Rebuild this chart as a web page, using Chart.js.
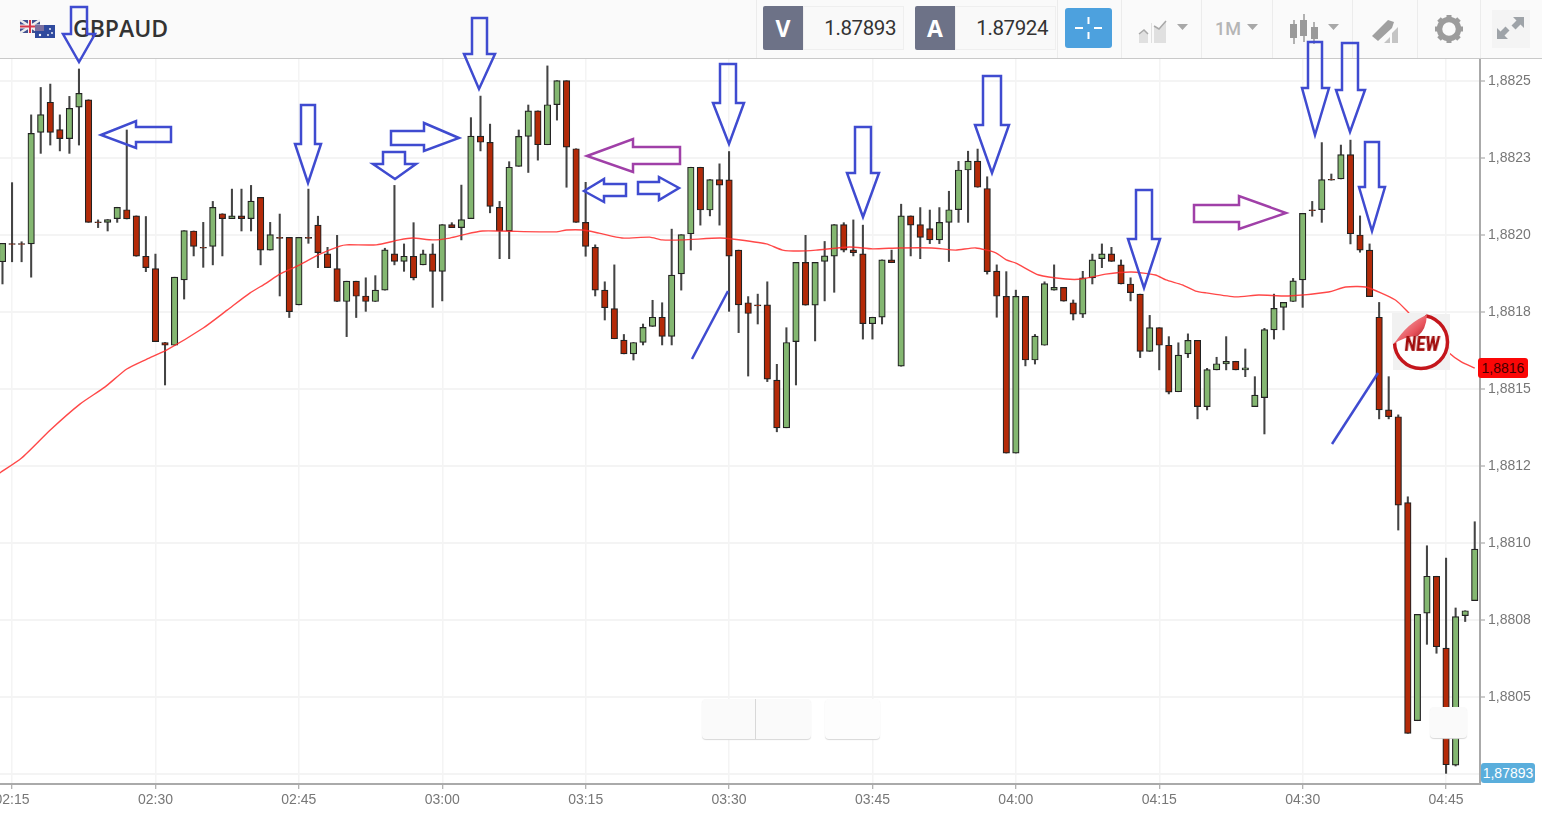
<!DOCTYPE html>
<html>
<head>
<meta charset="utf-8">
<title>GBPAUD</title>
<script src="https://cdn.jsdelivr.net/npm/chart.js@4"></script>
<style>
    html, body { margin: 0; padding: 0; background: #fff; overflow: hidden; }
    #wrap { position: relative; width: 1542px; height: 821px; overflow: hidden; font-family: "Open Sans", sans-serif; }
    #priceChart { position: absolute; left: 0; top: 0; }
    #toolbar { position: absolute; left: 0; top: 0; width: 1542px; height: 58px; background: #fafafa; border-bottom: 1px solid #c9c9c9; }
    #symbol { position: absolute; left: 73px; top: 12px; font-size: 23px; font-weight: 600; color: #333; }
    .divider { position: absolute; top: 0; width: 1px; height: 58px; background: #ececec; }
    .side { position: absolute; top: 6px; width: 40px; height: 44px; background: #6d7287; color: #fff; font-size: 23px; font-weight: 700; text-align: center; line-height: 44px; border-radius: 2px 0 0 2px; }
    .quote { position: absolute; top: 6px; height: 42px; border: 1px solid #efefef; background: #f9f9f9; color: #333; font-family: Roboto, sans-serif; font-size: 20.5px; line-height: 43px; letter-spacing: -0.4px; text-align: right; padding-right: 7px; box-sizing: content-box; }
    #cross { position: absolute; left: 1065px; top: 8px; width: 47px; height: 40px; background: #4da1de; border-radius: 3px; }
    #period { position: absolute; left: 1215px; top: 18px; font-family: Roboto, sans-serif; font-size: 18px; font-weight: 500; color: #b5b5b5; }
    #expand { position: absolute; left: 1492px; top: 10px; width: 38px; height: 38px; background: #f4f4f4; }
    .panel { position: absolute; background: #fafafa; border-radius: 4px; box-shadow: 0 1px 1px #d8d8d8; }
    .tag { position: absolute; font-family: "Liberation Sans", Arial, sans-serif; font-size: 14px; text-align: center; border-radius: 3px; }
    #overlay { position: absolute; left: 0; top: 0; }
</style>
</head>
<body>
<div id="wrap">
    <canvas id="priceChart" width="1542" height="821"></canvas>

    <div class="panel" style="left:702px;top:699px;width:109px;height:40px"></div>
    <div style="position:absolute;left:755px;top:699px;width:1px;height:40px;background:#d8d8d8"></div>
    <div class="panel" style="left:825px;top:699px;width:55px;height:40px;background:#fdfdfd"></div>
    <div class="panel" style="left:1430px;top:707px;width:37px;height:31px"></div>

    <div class="tag" style="left:1478px;top:358px;width:50px;height:20px;line-height:21px;background:#fb0606;color:#400">1,8816</div>
    <div class="tag" style="left:1481px;top:763px;width:54px;height:20px;line-height:21px;background:#5aaedc;color:#fff">1,87893</div>

    <div id="toolbar">
        <div id="symbol">GBPAUD</div>
        <div class="divider" style="left:756px"></div>
        <div class="divider" style="left:1057px"></div>
        <div class="divider" style="left:1121px"></div>
        <div class="divider" style="left:1201px"></div>
        <div class="divider" style="left:1272px"></div>
        <div class="divider" style="left:1352px"></div>
        <div class="divider" style="left:1417px"></div>
        <div class="divider" style="left:1480px"></div>
        <div class="side" style="left:763px">V</div>
        <div class="quote" style="left:803px;width:92px">1.87893</div>
        <div class="side" style="left:915px">A</div>
        <div class="quote" style="left:955px;width:92px">1.87924</div>
        <div id="cross"></div>
        <div id="period">1M</div>
        <div id="expand"></div>
    </div>

    <svg id="overlay" width="1542" height="821" viewBox="0 0 1542 821">
        <!-- flags -->
        <rect x="20" y="20" width="20" height="13" fill="#41508f"/>
        <path d="M20 20L40 33M40 20L20 33" stroke="#eee" stroke-width="2.5"/>
        <path d="M30 20V33M20 26.5H40" stroke="#f2f2f2" stroke-width="4"/>
        <path d="M30 20V33M20 26.5H40" stroke="#d6384a" stroke-width="2"/>
        <rect x="35" y="25" width="20" height="13" fill="#2f4a9e"/>
        <rect x="35" y="25" width="9" height="6" fill="#7b6f9e"/>
        <circle cx="50" cy="29" r="0.9" fill="#fff"/><circle cx="52" cy="33" r="0.9" fill="#fff"/><circle cx="48" cy="35" r="0.9" fill="#fff"/><circle cx="40" cy="35" r="1.2" fill="#fff"/>

        <!-- toolbar icons -->
        <path d="M1088.500 17v7M1088.500 32v7M1075 28h8M1094 28h8" stroke="#fff" stroke-width="2" fill="none"/>
        <path d="M1139 43V34l5-4 4 4v9zM1151 43V23h1v20zM1154 43V26l5 3 7-8v22z" fill="#e0e0e0"/>
        <path d="M1139 34l5-4 4 4M1154 26l5 3 7-8" stroke="#a8a8a8" stroke-width="1.5" fill="none"/>
        <path d="M1177 24h11l-5.500 6z M1247 24h11l-5.500 6z M1328 24h11l-5.500 6z" fill="#a8a8a8"/>
        <path d="M1294 20v24M1304 14v28M1314 22v22" stroke="#9a9a9a" stroke-width="1.500"/>
        <rect x="1290" y="24" width="7" height="14" fill="#9a9a9a"/><rect x="1300" y="20" width="7" height="16" fill="#9a9a9a"/><rect x="1311" y="27" width="7" height="12" fill="#9a9a9a"/>
        <path d="M1372 36l16-16 6 2-2 6-14 13z" fill="#a0a0a0"/>
        <path d="M1384 43l6-6v6zM1392 43V33l6-6v16z" fill="#c4c4c4"/>
        <g transform="translate(1449 29)">
            <circle r="9.500" fill="none" stroke="#9c9c9c" stroke-width="5.500"/>
            <path d="M0-14V-9M0 14V9M-14 0H-9M14 0H9M-10-10L-6.500-6.500M10 10L6.500 6.500M-10 10L-6.500 6.500M10-10L6.500-6.500" stroke="#9c9c9c" stroke-width="5"/>
        </g>
        <path d="M1513 17h11v11l-3.500-3.500-5 5-4-4 5-5zM1508 39h-11V28l3.500 3.500 5-5 4 4-5 5z" fill="#9ea3a8"/>

        <!-- hand drawn arrows -->
        <g fill="none" stroke="#3f4bd0" stroke-width="2.500" stroke-linejoin="miter">
            <polygon points="71,7 87,7 87,34 95,34 79,62 63,34 71,34"/>
            <polygon points="101,135 136,121 136,127 171,127 171,142 136,142 136,148"/>
            <polygon points="301,105 315,105 315,144 321,144 308,183 295,144 301,144"/>
            <polygon points="383,152 405,152 405,164 416,164 395,179 373,164 383,164"/>
            <polygon points="391,131 424,131 424,123 459,138 424,151 424,145 391,145"/>
            <polygon points="472,18 487,18 487,54 495,54 479,89 464,54 472,54"/>
            <polygon points="584,191 604,179 604,184 626,184 626,196 604,196 604,202"/>
            <polygon points="638,182 659,182 659,177 679,188 659,200 659,194 638,194"/>
            <polygon points="720,64 736,64 736,103 744,103 729,144 713,103 720,103"/>
            <polygon points="855,127 871,127 871,173 879,173 863,217 847,173 855,173"/>
            <polygon points="983,76 1001,76 1001,125 1009,125 992,173 975,125 983,125"/>
            <polygon points="1136,190 1152,190 1152,239 1160,239 1144,288 1128,239 1136,239"/>
            <polygon points="1308,42 1322,42 1322,88 1329,88 1315,135 1302,88 1308,88"/>
            <polygon points="1342,43 1358,43 1358,90 1365,90 1350,132 1336,90 1342,90"/>
            <polygon points="1365,142 1379,142 1379,187 1385,187 1372,231 1359,187 1365,187"/>
            <line x1="692" y1="359" x2="728" y2="291"/>
            <line x1="1332" y1="444" x2="1378" y2="373"/>
        </g>
        <g fill="none" stroke="#a040a8" stroke-width="2.500">
            <polygon points="587,156 633,139 633,147 680,147 680,164 633,164 633,172"/>
            <polygon points="1194,205 1239,205 1239,196 1286,213 1239,229 1239,222 1194,222"/>
        </g>

        <!-- NEW sticker -->
        <defs>
            <linearGradient id="curl" x1="0" y1="0" x2="1" y2="1">
                <stop offset="0" stop-color="#f7c3c6"/>
                <stop offset="0.6" stop-color="#e8535c"/>
                <stop offset="1" stop-color="#8c0f14"/>
            </linearGradient>
        </defs>
        <rect x="1393" y="314" width="57" height="56" fill="#f1f1f1"/>
        <circle cx="1421" cy="342" r="26.500" fill="#fff" stroke="#c4161c" stroke-width="3.500"/>
        <path d="M1392 345L1392 313L1428 313z" fill="#f1f1f1"/>
        <path d="M1394 344Q1408 322 1427 315Q1426 330 1418 336Q1405 336 1394 344z" fill="url(#curl)"/>
        <text transform="translate(1404 351) skewX(-6)" font-family="Roboto, sans-serif" font-weight="900" font-size="21" fill="#a10d0d" textLength="35" lengthAdjust="spacingAndGlyphs">NEW</text>
    </svg>
</div>

<script>
// one minute candles, from 02:14 on
const startMinute = 134;

const opens = [
    1.881913, 1.881972, 1.881972, 1.881971, 1.882333, 1.882431, 1.882342, 1.882313, 1.882415, 1.882439,
    1.882043, 1.882041, 1.882053, 1.882082, 1.882062, 1.881931, 1.881891, 1.881651, 1.881642, 1.881854,
    1.882013, 1.881960, 1.881963, 1.882069, 1.882053, 1.882062, 1.882053, 1.882122, 1.881951, 1.881992,
    1.881992, 1.881773, 1.881992, 1.882032, 1.881939, 1.881891, 1.881784, 1.881850, 1.881802, 1.881784,
    1.881821, 1.881939, 1.881914, 1.881931, 1.881903, 1.881939, 1.881882, 1.882034, 1.882024, 1.882053,
    1.882321, 1.882301, 1.882090, 1.882013, 1.882223, 1.882320, 1.882403, 1.882293, 1.882423, 1.882501,
    1.882280, 1.882041, 1.881960, 1.881821, 1.881761, 1.881659, 1.881614, 1.881651, 1.881703, 1.881733,
    1.881671, 1.881874, 1.882004, 1.882220, 1.882081, 1.882180, 1.882179, 1.881951, 1.881780, 1.881773,
    1.881773, 1.881529, 1.881374, 1.881654, 1.881911, 1.881772, 1.881914, 1.881931, 1.882034, 1.881952,
    1.881939, 1.881712, 1.881733, 1.881919, 1.881574, 1.882062, 1.882034, 1.882021, 1.881984, 1.882041,
    1.882082, 1.882211, 1.882240, 1.882151, 1.881883, 1.881801, 1.881292, 1.881801, 1.881594, 1.881642,
    1.881821, 1.881830, 1.881780, 1.881743, 1.881861, 1.881923, 1.881939, 1.881903, 1.881841, 1.881808,
    1.881622, 1.881699, 1.881642, 1.881491, 1.881614, 1.881658, 1.881443, 1.881562, 1.881581, 1.881590,
    1.881562, 1.881443, 1.881472, 1.881692, 1.881765, 1.881784, 1.881854, 1.882082, 1.882082, 1.882181,
    1.882182, 1.882261, 1.882000, 1.881951, 1.881733, 1.881432, 1.881410, 1.881131, 1.880423, 1.880772,
    1.880892, 1.880659, 1.880279, 1.880764, 1.880813
];
const highs = [
    1.881973, 1.882170, 1.881978, 1.882390, 1.882479, 1.882490, 1.882390, 1.882450, 1.882539, 1.882439,
    1.882049, 1.882050, 1.882090, 1.882341, 1.882062, 1.882060, 1.881938, 1.881651, 1.881863, 1.882014,
    1.882013, 1.882041, 1.882109, 1.882069, 1.882149, 1.882149, 1.882161, 1.882122, 1.882041, 1.882068,
    1.881992, 1.881992, 1.882149, 1.882061, 1.881960, 1.881999, 1.881850, 1.881850, 1.881861, 1.881868,
    1.881957, 1.882161, 1.881971, 1.882040, 1.881951, 1.881971, 1.882034, 1.882040, 1.882162, 1.882381,
    1.882451, 1.882360, 1.882109, 1.882238, 1.882341, 1.882422, 1.882403, 1.882549, 1.882501, 1.882501,
    1.882280, 1.882171, 1.881968, 1.881848, 1.881903, 1.881677, 1.881651, 1.881711, 1.881788, 1.881780,
    1.882019, 1.882001, 1.882220, 1.882220, 1.882180, 1.882231, 1.882271, 1.881951, 1.881800, 1.881808,
    1.881848, 1.881580, 1.881699, 1.881911, 1.881999, 1.881911, 1.881979, 1.882034, 1.882040, 1.882049,
    1.882032, 1.881733, 1.881919, 1.881951, 1.882100, 1.882062, 1.882089, 1.882081, 1.882089, 1.882142,
    1.882239, 1.882272, 1.882279, 1.882189, 1.881903, 1.881881, 1.881821, 1.881801, 1.881677, 1.881848,
    1.881903, 1.881830, 1.881789, 1.881882, 1.881938, 1.881971, 1.881960, 1.881919, 1.881861, 1.881808,
    1.881739, 1.881699, 1.881670, 1.881650, 1.881679, 1.881658, 1.881567, 1.881603, 1.881670, 1.881590,
    1.881630, 1.881540, 1.881697, 1.881808, 1.881781, 1.881859, 1.882070, 1.882109, 1.882300, 1.882198,
    1.882292, 1.882308, 1.882062, 1.881971, 1.881781, 1.881540, 1.881416, 1.881150, 1.880768, 1.880991,
    1.880892, 1.880951, 1.880789, 1.880780, 1.881069
];
const lows = [
    1.881841, 1.881913, 1.881913, 1.881863, 1.882265, 1.882292, 1.882273, 1.882265, 1.882292, 1.882041,
    1.882024, 1.882013, 1.882041, 1.882052, 1.881931, 1.881881, 1.881654, 1.881513, 1.881642, 1.881792,
    1.881932, 1.881895, 1.881903, 1.881932, 1.882053, 1.882013, 1.882013, 1.881903, 1.881951, 1.881802,
    1.881732, 1.881773, 1.881973, 1.881894, 1.881894, 1.881784, 1.881670, 1.881732, 1.881752, 1.881784,
    1.881821, 1.881903, 1.881882, 1.881854, 1.881903, 1.881765, 1.881786, 1.882024, 1.881984, 1.882053,
    1.882273, 1.882072, 1.881923, 1.881923, 1.882223, 1.882203, 1.882243, 1.882293, 1.882373, 1.882155,
    1.882041, 1.881931, 1.881802, 1.881724, 1.881663, 1.881614, 1.881594, 1.881643, 1.881703, 1.881643,
    1.881643, 1.881821, 1.881951, 1.882032, 1.882062, 1.882032, 1.881752, 1.881683, 1.881542, 1.881711,
    1.881524, 1.881361, 1.881374, 1.881513, 1.881772, 1.881656, 1.881786, 1.881814, 1.881945, 1.881932,
    1.881662, 1.881662, 1.881711, 1.881910, 1.881574, 1.881932, 1.881923, 1.881972, 1.881972, 1.881914,
    1.882041, 1.882041, 1.882155, 1.881873, 1.881733, 1.881292, 1.881292, 1.881575, 1.881581, 1.881642,
    1.881821, 1.881785, 1.881724, 1.881732, 1.881841, 1.881894, 1.881914, 1.881841, 1.881786, 1.881602,
    1.881622, 1.881562, 1.881484, 1.881491, 1.881602, 1.881403, 1.881432, 1.881562, 1.881562, 1.881562,
    1.881540, 1.881443, 1.881354, 1.881662, 1.881692, 1.881784, 1.881765, 1.882061, 1.882041, 1.882178,
    1.882182, 1.881971, 1.881944, 1.881800, 1.881403, 1.881403, 1.881042, 1.880382, 1.880423, 1.880671,
    1.880642, 1.880252, 1.880276, 1.880745, 1.880813
];
const closes = [
    1.881973, 1.881969, 1.881969, 1.882330, 1.882391, 1.882333, 1.882313, 1.882411, 1.882460, 1.882041,
    1.882040, 1.882050, 1.882090, 1.882052, 1.881931, 1.881894, 1.881654, 1.881642, 1.881863, 1.882014,
    1.881963, 1.881957, 1.882090, 1.882053, 1.882062, 1.882053, 1.882110, 1.881951, 1.882001, 1.881989,
    1.881751, 1.881992, 1.881989, 1.881943, 1.881894, 1.881784, 1.881850, 1.881801, 1.881784, 1.881821,
    1.881952, 1.881914, 1.881931, 1.881861, 1.881939, 1.881882, 1.882034, 1.882024, 1.882050, 1.882321,
    1.882301, 1.882093, 1.882013, 1.882220, 1.882320, 1.882403, 1.882293, 1.882423, 1.882501, 1.882285,
    1.882041, 1.881963, 1.881821, 1.881764, 1.881663, 1.881614, 1.881651, 1.881700, 1.881733, 1.881671,
    1.881870, 1.882001, 1.882220, 1.882081, 1.882180, 1.882162, 1.881931, 1.881773, 1.881745, 1.881770,
    1.881532, 1.881374, 1.881651, 1.881911, 1.881772, 1.881911, 1.881932, 1.882034, 1.881951, 1.881943,
    1.881712, 1.881733, 1.881919, 1.881910, 1.882062, 1.882032, 1.881992, 1.881984, 1.882041, 1.882082,
    1.882211, 1.882240, 1.882155, 1.881881, 1.881801, 1.881292, 1.881801, 1.881594, 1.881672, 1.881842,
    1.881830, 1.881785, 1.881743, 1.881861, 1.881919, 1.881939, 1.881914, 1.881841, 1.881813, 1.881622,
    1.881699, 1.881642, 1.881490, 1.881610, 1.881658, 1.881443, 1.881563, 1.881582, 1.881590, 1.881562,
    1.881569, 1.881480, 1.881693, 1.881762, 1.881781, 1.881851, 1.882070, 1.882079, 1.882180, 1.882178,
    1.882261, 1.882004, 1.881951, 1.881800, 1.881432, 1.881410, 1.881123, 1.880382, 1.880768, 1.880892,
    1.880663, 1.880280, 1.880761, 1.880780, 1.880980
];

// moving average
const maMinutes = [
    133.7, 136, 139, 142.1, 144.7, 147, 149.1, 151.2, 155, 157.5, 159.9, 161.6, 163, 165.1, 167.2, 169.3, 170, 173.1,
    175.5, 176.9, 179, 180.8, 182.5, 184.2, 186, 191.9, 193, 194.7, 196.4, 198.8, 201.7, 203, 205.1, 209, 210.3,
    213.9, 215.6, 217.3, 219.1, 222.6, 225, 227.8, 231.2, 233.7, 235.8, 237.9, 239, 240, 242.4, 245.2, 246.9, 249.4,
    252.1, 254.6, 255.7, 257.4, 258.8, 259.9, 263, 265.4, 268.5, 272.7, 274.5, 276.6, 279.7, 281.1, 285.2, 286.6, 288
];
const maValues = [
    1.881227, 1.881276, 1.881367, 1.881451, 1.881506, 1.881565, 1.881597, 1.881627, 1.881698, 1.881756, 1.881812, 1.881844, 1.881873, 1.881903, 1.881938, 1.881964, 1.881968, 1.881968,
    1.881984, 1.881990, 1.881984, 1.881990, 1.882003, 1.882013, 1.882013, 1.882010, 1.882016, 1.882016, 1.882006, 1.881990, 1.881993, 1.881984, 1.881984, 1.881990, 1.881987,
    1.881971, 1.881951, 1.881948, 1.881951, 1.881961, 1.881955, 1.881958, 1.881958, 1.881951, 1.881958, 1.881942, 1.881919, 1.881909, 1.881870, 1.881857, 1.881857, 1.881873,
    1.881880, 1.881870, 1.881854, 1.881838, 1.881818, 1.881812, 1.881799, 1.881805, 1.881802, 1.881815, 1.881831, 1.881831, 1.881789, 1.881747, 1.881620, 1.881588, 1.881568
];

// axis ticks
const xTickMinutes = [135, 150, 165, 180, 195, 210, 225, 240, 255, 270, 285];
const xTickLabels = ['02:15', '02:30', '02:45', '03:00', '03:15', '03:30', '03:45', '04:00', '04:15', '04:30', '04:45'];
const yTickValues = [1.8825, 1.88225, 1.882, 1.88175, 1.8815, 1.88125, 1.881, 1.88075, 1.8805, 1.88025];
const yTickLabels = ['1,8825', '1,8823', '1,8820', '1,8818', '1,8815', '1,8812', '1,8810', '1,8808', '1,8805', ''];

const GREEN = '#84b771';
const RED = '#b42a08';

const wickData = opens.map((_, i) => ({ x: startMinute + i, y: [lows[i], highs[i]] }));
const bodyData = opens.map((o, i) => ({ x: startMinute + i, y: [o, closes[i]] }));
const bodyColors = opens.map((o, i) => (closes[i] >= o ? GREEN : RED));
const maData = maMinutes.map((m, i) => ({ x: m, y: maValues[i] }));

const axisFont = { family: '"Liberation Sans", Arial, sans-serif', size: 14 };

new Chart(document.getElementById('priceChart'), {
    type: 'bar',
    data: {
        datasets: [
            {
                type: 'line',
                data: maData,
                borderColor: 'rgba(255, 40, 40, 0.85)',
                borderWidth: 1.4,
                pointRadius: 0,
                tension: 0.2,
                order: 0
            },
            {
                data: bodyData,
                backgroundColor: bodyColors,
                borderColor: '#222',
                borderWidth: 1.2,
                borderSkipped: false,
                barThickness: 6.5,
                grouped: false,
                order: 1
            },
            {
                data: wickData,
                backgroundColor: '#444',
                barThickness: 1.4,
                grouped: false,
                order: 2
            }
        ]
    },
    options: {
        responsive: false,
        animation: false,
        layout: { autoPadding: false, padding: { top: 59, left: 0, right: 0, bottom: 0 } },
        plugins: { legend: { display: false }, tooltip: { enabled: false } },
        scales: {
            x: {
                type: 'linear',
                offset: false,
                min: 133.74,
                max: 288.55,
                afterFit: scale => {
                    scale.height = 37;
                    // first label hangs off the left edge, so no padding for it
                    scale.paddingLeft = 0;
                    scale.paddingRight = 0;
                },
                afterBuildTicks: scale => { scale.ticks = xTickMinutes.map(v => ({ value: v })); },
                ticks: {
                    autoSkip: false,
                    maxRotation: 0,
                    color: '#777',
                    font: axisFont,
                    padding: 3,
                    callback: (v, i) => xTickLabels[i]
                },
                grid: { offset: false, color: '#f4f4f4', lineWidth: 1.5, tickColor: '#999', tickLength: 5, tickWidth: 1 },
                border: { color: '#aaa', width: 2 }
            },
            y: {
                type: 'linear',
                position: 'right',
                min: 1.8802175,
                max: 1.8825714,
                afterFit: scale => { scale.width = 62; },
                afterBuildTicks: scale => { scale.ticks = yTickValues.map(v => ({ value: v })); },
                ticks: {
                    autoSkip: false,
                    color: '#777',
                    font: axisFont,
                    padding: 3,
                    callback: (v, i) => yTickLabels[i]
                },
                grid: { color: '#f4f4f4', lineWidth: 2, tickColor: '#999', tickLength: 5, tickWidth: 1 },
                border: { color: '#aaa', width: 2 }
            }
        }
    }
});
</script>
</body>
</html>
